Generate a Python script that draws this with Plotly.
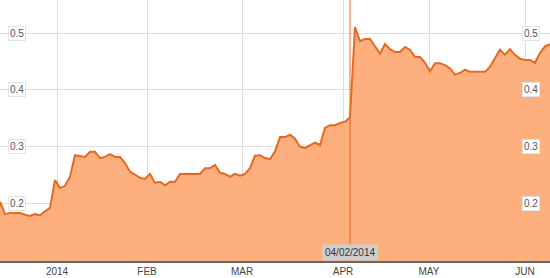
import plotly.graph_objects as go

# Trading-session index (x) and price (y)
sessions = list(range(0, 111))
prices = [
    0.203, 0.181, 0.183, 0.183, 0.183, 0.180, 0.178, 0.181, 0.179, 0.186,
    0.192, 0.241, 0.227, 0.231, 0.247, 0.285, 0.284, 0.282, 0.291, 0.291,
    0.280, 0.282, 0.287, 0.282, 0.282, 0.271, 0.256, 0.250, 0.245, 0.243,
    0.252, 0.236, 0.238, 0.232, 0.238, 0.238, 0.252, 0.252, 0.252, 0.252,
    0.252, 0.262, 0.262, 0.268, 0.254, 0.252, 0.247, 0.252, 0.249, 0.252,
    0.262, 0.284, 0.285, 0.280, 0.278, 0.292, 0.317, 0.317, 0.321, 0.314,
    0.300, 0.298, 0.303, 0.307, 0.303, 0.333, 0.338, 0.338, 0.342, 0.344,
    0.352, 0.511, 0.486, 0.490, 0.490, 0.478, 0.464, 0.481, 0.472, 0.467,
    0.467, 0.476, 0.471, 0.458, 0.458, 0.448, 0.433, 0.447, 0.447, 0.444,
    0.438, 0.427, 0.430, 0.436, 0.432, 0.432, 0.432, 0.432, 0.441, 0.457,
    0.471, 0.462, 0.472, 0.462, 0.455, 0.453, 0.453, 0.448, 0.465, 0.477,
    0.481,
]

month_tick_sessions = [11.4, 29.4, 48.4, 68.6, 85.8, 105.0]
month_tick_labels = ["2014", "FEB", "MAR", "APR", "MAY", "JUN"]

y_ticks = [0.2, 0.3, 0.4, 0.5]
y_tick_labels = ["0.2", "0.3", "0.4", "0.5"]

cursor_session = 70
cursor_label = "04/02/2014"

LINE = "#e8681f"
FILL = "rgba(253,166,112,0.9)"
GRID = "#dedede"
FONT = "Liberation Sans, Arial, sans-serif"

fig = go.Figure()
fig.add_trace(go.Scatter(
    x=sessions, y=prices, mode="lines", fill="tozeroy",
    line=dict(color=LINE, width=2), fillcolor=FILL, hoverinfo="skip",
))

annotations = []
for v, t in zip(y_ticks, y_tick_labels):
    for xp in (0.03, 0.965):
        annotations.append(dict(
            x=xp, xref="paper", y=v, yref="y", text=t, showarrow=False,
            font=dict(family=FONT, size=10, color="#555"),
            bgcolor="white", bordercolor="#e4e4e4", borderwidth=1, borderpad=1,
            xanchor="center", yanchor="middle",
        ))
annotations.append(dict(
    x=cursor_session, xref="x", y=0, yref="paper", text=cursor_label,
    showarrow=False, font=dict(family=FONT, size=10, color="#333"),
    bgcolor="#cfcfcf", borderpad=2, xanchor="center", yanchor="bottom",
    yshift=0,
))

fig.update_layout(
    width=550, height=278,
    margin=dict(l=0, r=0, t=0, b=17),
    paper_bgcolor="white", plot_bgcolor="white",
    showlegend=False,
    xaxis=dict(
        range=[0, 110], tickvals=month_tick_sessions, ticktext=month_tick_labels,
        showgrid=True, gridcolor=GRID, gridwidth=1, zeroline=False,
        showline=True, linecolor="#666", linewidth=2, ticks="",
        tickfont=dict(family=FONT, size=10, color="#444"), fixedrange=True,
    ),
    yaxis=dict(
        range=[0.0984, 0.5587], tickvals=y_ticks, showticklabels=False,
        showgrid=True, gridcolor=GRID, gridwidth=1, zeroline=False,
        showline=False, ticks="", fixedrange=True,
    ),
    shapes=[dict(
        type="line", x0=cursor_session, x1=cursor_session, xref="x",
        y0=0, y1=1, yref="paper", line=dict(color=LINE, width=1),
    )],
    annotations=annotations,
)

fig.write_html("out.html", config={"displayModeBar": False})
